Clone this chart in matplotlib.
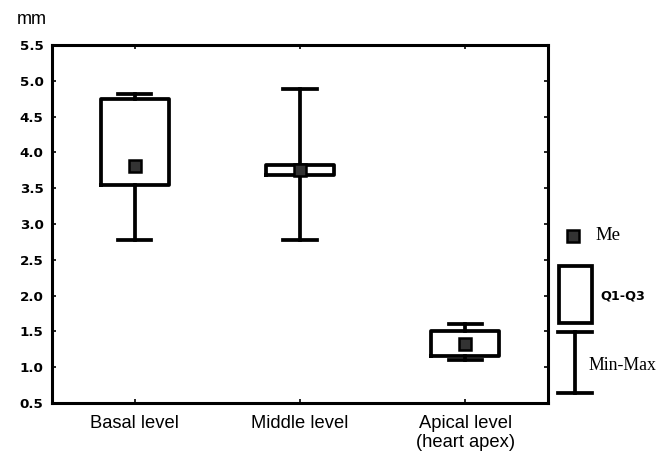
import matplotlib
matplotlib.use("Agg")
import matplotlib.pyplot as plt
from matplotlib.patches import Rectangle

categories = ["Basal level", "Middle level", "Apical level\n(heart apex)"]
medians = [3.81, 3.75, 1.32]
q1 = [3.54, 3.69, 1.15]
q3 = [4.75, 3.82, 1.50]
mins = [2.77, 2.78, 1.10]
maxs = [4.81, 4.88, 1.61]
yticks = [0.5, 1.0, 1.5, 2.0, 2.5, 3.0, 3.5, 4.0, 4.5, 5.0, 5.5]

W, H = 668, 455
fig = plt.figure(figsize=(W / 100, H / 100), dpi=100)
ax = fig.add_axes([52 / W, 1 - 403 / H, (548 - 52) / W, (403 - 45) / H])

stats = []
for lab, m, a, b, lo, hi in zip(categories, medians, q1, q3, mins, maxs):
    stats.append(dict(label=lab, med=m, q1=a, q3=b, whislo=lo, whishi=hi, fliers=[]))

pos = list(range(len(categories)))
lw = 2.7
ax.bxp(stats, positions=pos, widths=0.41, capwidths=0.2, showfliers=False,
       boxprops=dict(color="black", linewidth=lw),
       whiskerprops=dict(color="black", linewidth=lw),
       capprops=dict(color="black", linewidth=lw),
       medianprops=dict(linestyle="none"))
ax.plot(pos, medians, linestyle="none", marker="s", markersize=8.5,
        markerfacecolor="#333333", markeredgecolor="black", markeredgewidth=1.8, zorder=5)

ax.set_xlim(-0.5, 2.5)
ax.set_ylim(0.5, 5.5)
ax.set_yticks(yticks)
ax.set_yticklabels([f"{v:.1f}" for v in yticks], fontweight="bold", fontsize=9.7,
                   family="DejaVu Sans")
ax.set_xticks(pos)
ax.set_xticklabels(categories, fontsize=13.2, family="Liberation Sans", linespacing=1.15)
ax.tick_params(axis="both", direction="in", length=3, width=1.2,
               top=True, right=True)
ax.tick_params(axis="x", pad=9)
ax.tick_params(axis="y", pad=6)
for s in ax.spines.values():
    s.set_linewidth(2.2)

fig.text(17 / W, 1 - 20 / H, "mm", fontsize=13, family="Liberation Sans",
         va="center", ha="left")

# legend panel
lax = fig.add_axes([0, 0, 1, 1])
lax.set_xlim(0, W)
lax.set_ylim(H, 0)
lax.axis("off")
lax.plot([573], [236], marker="s", markersize=8.5, markerfacecolor="#333333",
         markeredgecolor="black", markeredgewidth=1.8, linestyle="none")
lax.add_patch(Rectangle((559, 266), 33, 57, fill=False, edgecolor="black", linewidth=lw))
lax.plot([558, 592], [332, 332], color="black", linewidth=lw)
lax.plot([558, 592], [393, 393], color="black", linewidth=lw)
lax.plot([575, 575], [332, 393], color="black", linewidth=lw)
lax.text(595, 236, "Me", fontsize=13.5, family="Liberation Serif", va="center", ha="left")
lax.text(600, 296, "Q1-Q3", fontsize=9.2, fontweight="bold", family="DejaVu Sans",
         va="center", ha="left")
lax.text(588, 366, "Min-Max", fontsize=12.8, family="Liberation Serif", va="center", ha="left")

fig.savefig("out.png", dpi=100)
